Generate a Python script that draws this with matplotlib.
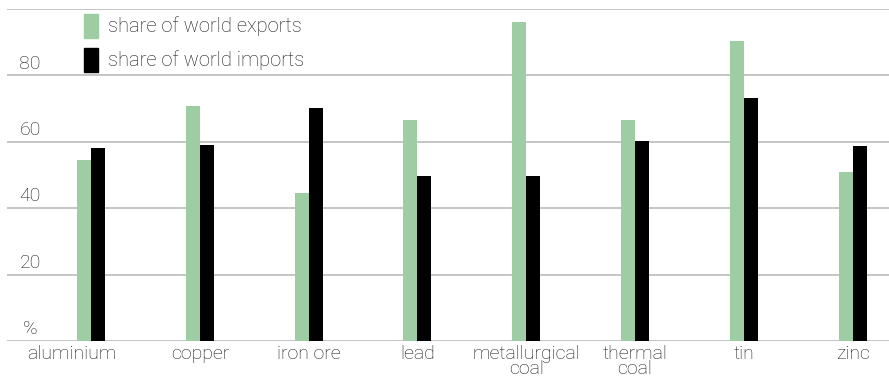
import numpy as np
import matplotlib
matplotlib.use("Agg")
import matplotlib.pyplot as plt
import matplotlib.transforms as mtransforms
from matplotlib.patches import Patch

plt.rcParams['font.family'] = ['Roboto', 'DejaVu Sans']
plt.rcParams['font.weight'] = 'light'

# shares of world trade, %
minerals = ["aluminium", "copper", "iron ore", "lead",
            "metallurgical\ncoal", "thermal\ncoal", "tin", "zinc"]
exports = [54.5, 70.7, 44.6, 66.5, 96.0, 66.5, 90.3, 50.9]
imports = [58.1, 59.0, 70.1, 49.7, 49.7, 60.2, 73.1, 58.7]
ticks = [20, 40, 60, 80]

green = "#9fcda3"
grid_col = "#c0c0c0"
txt_col = "#1a1a1a"
fs = 14

fig = plt.figure(figsize=(8.89, 3.91), dpi=100)
ax = fig.add_axes([7 / 889, 1 - 341 / 391, 882 / 889, (341 - 8.7) / 391])

x = np.arange(len(minerals))
w = 0.129
ax.bar(x - w / 2, exports, w, color=green, zorder=2)
ax.bar(x + w / 2, imports, w, color="black", zorder=2)

ax.set_xlim(-0.772, 7.334)
ax.set_ylim(0, 100)

# horizontal grid, drawn by hand so it spans the whole width
for yv in [0] + ticks + [100]:
    ax.axhline(yv, color=grid_col, lw=1.3, zorder=1)

for s in ax.spines.values():
    s.set_visible(False)
ax.set_yticks([])
ax.tick_params(axis='x', length=0, pad=3)
ax.set_xticks(x)
labs = ax.set_xticklabels(minerals, fontsize=fs, color=txt_col,
                          linespacing=0.75, va='top')
# first label pushed left like in the original layout
labs[0].set_transform(labs[0].get_transform() +
                      mtransforms.ScaledTranslation(-0.19, 0, fig.dpi_scale_trans))

# y labels sit just above their gridline
tr = mtransforms.blended_transform_factory(fig.transFigure, ax.transData)
for yv in ticks:
    ax.text(41 / 889, yv + 0.8, str(yv), transform=tr, ha='right', va='bottom',
            fontsize=fs, color=txt_col)
ax.text(38 / 889, 0.8, "%", transform=tr, ha='right', va='bottom',
        fontsize=fs, color=txt_col)

handles = [Patch(color=green, label="share of world exports"),
           Patch(color="black", label="share of world imports")]
leg = ax.legend(handles=handles, loc='upper left', bbox_to_anchor=(0.076, 1.015),
                frameon=False, fontsize=14.5, handlelength=0.7, handleheight=1.45,
                handletextpad=0.5, labelspacing=0.5, borderaxespad=0.1)
for t in leg.get_texts():
    t.set_color(txt_col)

fig.savefig("out.png", dpi=100)
